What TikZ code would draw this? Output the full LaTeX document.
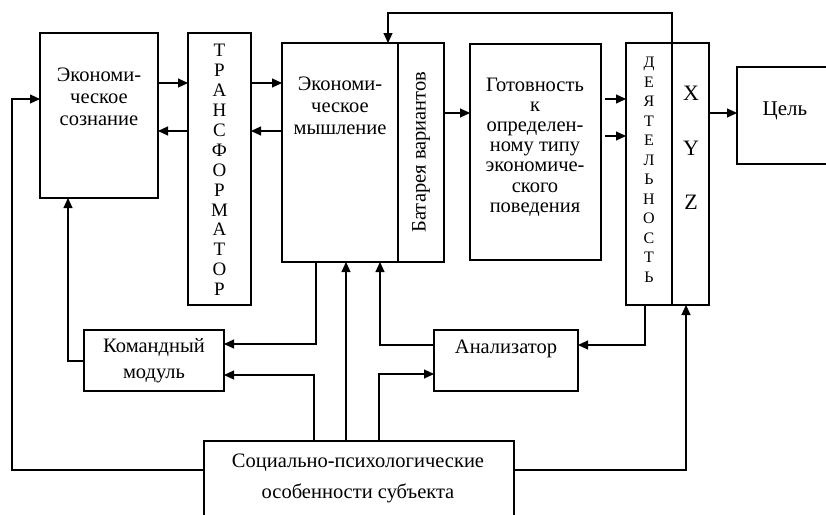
\documentclass[tikz,border=0pt]{standalone}
\usepackage{fontspec}
\setmainfont{Liberation Serif}
\usetikzlibrary{arrows.meta}
\begin{document}
\begin{tikzpicture}[x=1pt,y=-1pt,line width=1.1pt,
  >={Triangle[length=10pt,width=9pt]},
  box/.style={draw,inner sep=0pt,outer sep=0pt,anchor=north west},
  txt/.style={inner sep=0pt,align=center,font=\fontsize{20.5}{22}\selectfont}]
\clip (0,0) rectangle (826,514);
\fill[white] (0,0) rectangle (826,514);
% boxes
\node[box,minimum width=118pt,minimum height=165pt] (cons) at (40,33) {};
\node[box,minimum width=63pt,minimum height=272pt] (trans) at (188,33) {};
\node[box,minimum width=116pt,minimum height=219pt] (think) at (282,43) {};
\node[box,minimum width=46pt,minimum height=219pt] (bat) at (398,43) {};
\node[box,minimum width=131pt,minimum height=216pt] (got) at (470,44) {};
\node[box,minimum width=46pt,minimum height=262pt] (deyat) at (626,43) {};
\node[box,minimum width=37pt,minimum height=262pt] (xyz) at (672,43) {};
\node[box,minimum width=100pt,minimum height=97pt] (goal) at (737,67) {};
\node[box,minimum width=140pt,minimum height=61pt] (cmd) at (84,330) {};
\node[box,minimum width=144pt,minimum height=61pt] (anal) at (434,330) {};
\node[box,minimum width=310pt,minimum height=100pt] (soc) at (204,441) {};
% texts
\node[txt] (consT) at (99,97) {Экономи-\\ческое\\сознание};
\node[txt] (thinkT) at (340,106) {Экономи-\\ческое\\мышление};
\node[txt,rotate=90] (batT) at (421,152) {Батарея вариантов};
\node[txt,font=\fontsize{20.5}{20.2}\selectfont] (gotT) at (535,147) {Готовность\\к\\определен-\\ному типу\\экономиче-\\ского\\поведения};
\node[txt,font=\fontsize{19}{19.9}\selectfont] (transT) at (219.5,170) {Т\\Р\\А\\Н\\С\\Ф\\О\\Р\\М\\А\\Т\\О\\Р};
\node[txt,font=\fontsize{16}{19.5}\selectfont] (deyT) at (649,170) {Д\\Е\\Я\\Т\\Е\\Л\\Ь\\Н\\О\\С\\Т\\Ь};
\node[txt,font=\fontsize{22}{22}\selectfont] (xT) at (691,93) {X};
\node[txt,font=\fontsize{22}{22}\selectfont] (yT) at (691,148) {Y};
\node[txt,font=\fontsize{22}{22}\selectfont] (zT) at (691,202) {Z};
\node[txt,font=\fontsize{21}{22}\selectfont] (goalT) at (785,111) {Цель};
\node[txt,font=\fontsize{20.5}{26}\selectfont] (cmdT) at (154,361) {Командный\\модуль};
\node[txt] (analT) at (506,349) {Анализатор};
\node[txt,font=\fontsize{20.5}{31}\selectfont] (socT) at (358,478) {Социально-психологические\\особенности субъекта};
% connectors
\draw[->] (cons.east |- 0,83) -- (trans.west |- 0,83);
\draw[->] (trans.west |- 0,131) -- (cons.east |- 0,131);
\draw[->] (trans.east |- 0,83) -- (think.west |- 0,83);
\draw[->] (think.west |- 0,131) -- (trans.east |- 0,131);
\draw[->] (bat.east |- 0,113) -- (got.west |- 0,113);
\coordinate (g1) at (605,99);
\coordinate (g2) at (605,136);
\draw[->] (g1) -- (deyat.west |- g1);
\draw[->] (g2) -- (deyat.west |- g2);
\draw[->] (xyz.east |- 0,113) -- (goal.west |- 0,113);
\coordinate (top) at (672,13);
\draw[->] (deyat.south east) -- (top) -| (think.north -| 388,0);
\coordinate (lc) at (12,99);
\draw[->] (soc.west |- 0,470) -| (lc) -- (cons.west |- lc);
\draw[->] (cmd.west |- 0,361) -| (cons.south -| 68,0);
\draw[->] (think.south -| 316,0) |- (cmd.east |- 0,344);
\draw[->] (soc.north -| 314,0) |- (cmd.east |- 0,375);
\draw[->] (soc.north -| 346,0) -- (think.south -| 346,0);
\draw[->] (anal.west |- 0,345) -| (think.south -| 380,0);
\draw[->] (soc.north -| 379,0) |- (anal.west |- 0,374);
\draw[->] (deyat.south -| 645,0) |- (anal.east |- 0,345);
\draw[->] (soc.east |- 0,470) -| (xyz.south -| 686,0);
\end{tikzpicture}
\end{document}
